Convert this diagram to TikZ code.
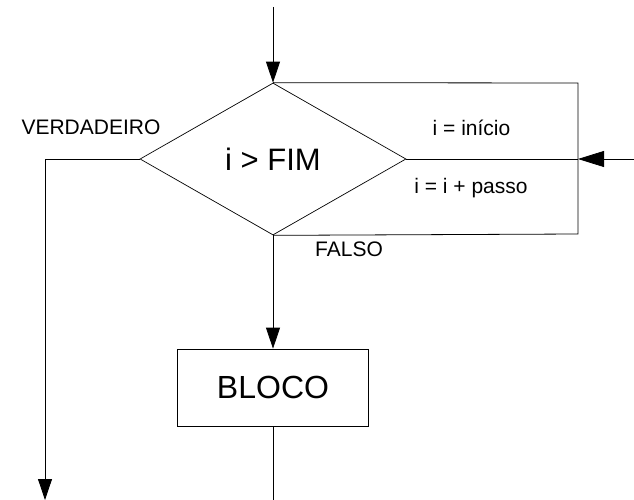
\documentclass[tikz,border=0pt]{standalone}
\usepackage{fontspec}
\setmainfont{Liberation Sans}
\usetikzlibrary{shapes.geometric,arrows.meta}
\begin{document}
\begin{tikzpicture}[x=1pt,y=-1pt,
  line/.style={draw=black,line width=0.8pt},
  arr/.style={line,-{Triangle[length=21pt,width=14pt]}},
  bigarr/.style={line,-{Triangle[length=26pt,width=16pt]}},
  lbl/.style={inner sep=0pt,font=\fontsize{21}{24}\selectfont},
  decision/.style={diamond,draw=black,line width=0.7pt,inner sep=0pt,
    minimum width=266pt,minimum height=152pt,font=\fontsize{31}{36}\selectfont},
  blockbox/.style={rectangle,draw=black,line width=0.7pt,inner sep=0pt,
    minimum width=191pt,minimum height=77pt,font=\fontsize{32}{36}\selectfont}]
\useasboundingbox (0,0) rectangle (634,500);

% decision and loop body
\node[decision] (dec) at (273,159) {i > FIM};
\node[blockbox] (bloco) at (273,387.5) {BLOCO};

% helper points of the connectors
\coordinate (start) at (273,7);
\coordinate (tr) at (578,83);
\coordinate (br) at (578,234);
\coordinate (mid) at (578,159);
\coordinate (entry) at (634,159);
\coordinate (lt) at (45,159);
\coordinate (lb) at (45,500);
\coordinate (out) at (273,500);

% connectors
\draw[arr] (start) -- (dec.north);
\draw[line] (dec.north) -- (tr) -- (br) -- (dec.south);
\draw[line] (dec.east) -- (mid);
\draw[bigarr] (entry) -- (mid);
\draw[arr] (dec.west) -- (lt) -- (lb);
\draw[arr] (dec.south) -- (bloco.north);
\draw[line] (bloco.south) -- (out);

% labels
\node[lbl] (vlbl) at (91,127.5) {VERDADEIRO};
\node[lbl] (ini) at (471.5,128) {i = início};
\node[lbl] (inc) at (471,188) {i = i + passo};
\node[lbl] (flbl) at (349,249) {FALSO};
\end{tikzpicture}
\end{document}
